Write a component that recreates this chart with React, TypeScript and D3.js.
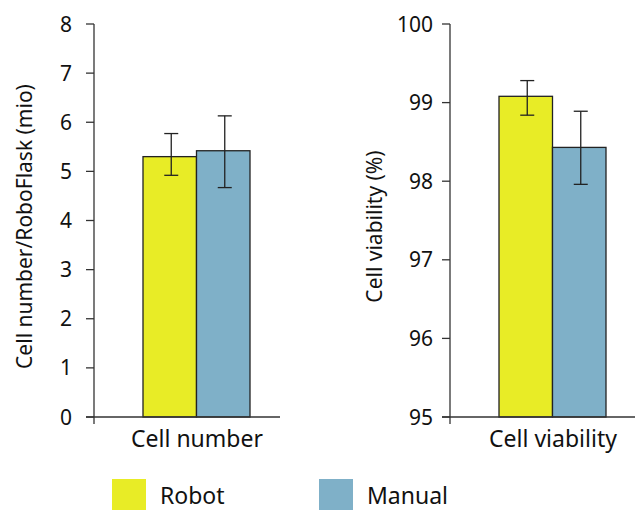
import React from "react";
import * as d3 from "d3";

const groups = ["Robot", "Manual"];
const colors = ["#e8ec26", "#7fb0c8"];

// left panel: cell number (mio)
const cellNumberMean = [5.3, 5.42];
const cellNumberErr = [[4.92, 5.77], [4.67, 6.13]];
const cellNumberTicks = [0, 1, 2, 3, 4, 5, 6, 7, 8];

// right panel: cell viability (%)
const viabilityMean = [99.08, 98.43];
const viabilityErr = [[98.84, 99.28], [97.96, 98.89]];
const viabilityTicks = [95, 96, 97, 98, 99, 100];

const font = "'Noto Sans', 'Open Sans', sans-serif";
const axisColor = "#333";

function Panel(props) {
  const { axisX, axisEnd, domain, ticks, means, errs, title, category, labelGap, titleGap } = props;
  const top = 24;
  const bottom = 417;
  const y = d3.scaleLinear().domain(domain).range([bottom, top]);
  const x = d3.scaleBand().domain(groups).range([axisX + 49, axisX + 156]).padding(0);

  return (
    <g>
      {/* y axis */}
      <line x1={axisX} x2={axisX} y1={top} y2={bottom + 7} stroke={axisColor} strokeWidth={1.3} />
      {ticks.map((t) => (
        <g key={t}>
          <line x1={axisX - 8} x2={axisX} y1={y(t)} y2={y(t)} stroke={axisColor} strokeWidth={1.3} />
          <text x={axisX - labelGap} y={y(t)} dy="0.36em" textAnchor="end" fontSize={21} fill="#111" fontFamily={font}>
            {t}
          </text>
        </g>
      ))}
      <text
        transform={`translate(${axisX - titleGap},${(top + bottom) / 2 + 6}) rotate(-90)`}
        dy="0.35em"
        textAnchor="middle"
        fontSize={21}
        fill="#111"
        fontFamily={font}
      >
        {title}
      </text>

      {/* bars */}
      {groups.map((g, i) => (
        <rect
          key={g}
          x={x(g)}
          y={y(means[i])}
          width={x.bandwidth()}
          height={bottom - y(means[i])}
          fill={colors[i]}
          stroke="#222"
          strokeWidth={1.3}
        />
      ))}
      {groups.map((g, i) => {
        const cx = x(g) + x.bandwidth() / 2 + 1.5;
        return (
          <g key={g} stroke="#222" strokeWidth={1.3}>
            <line x1={cx} x2={cx} y1={y(errs[i][0])} y2={y(errs[i][1])} />
            <line x1={cx - 7} x2={cx + 7} y1={y(errs[i][0])} y2={y(errs[i][0])} />
            <line x1={cx - 7} x2={cx + 7} y1={y(errs[i][1])} y2={y(errs[i][1])} />
          </g>
        );
      })}

      {/* x axis */}
      <line x1={axisX - 8} x2={axisEnd} y1={bottom} y2={bottom} stroke={axisColor} strokeWidth={1.3} />
      <text
        x={axisX + 103}
        y={447}
        textAnchor="middle"
        fontSize={23}
        fill="#111"
        fontFamily={font}
      >
        {category}
      </text>
    </g>
  );
}

export default function App() {
  return (
    <svg width={635} height={510} style={{ position: "absolute", left: 0, top: 0, background: "#fff" }}>
      <Panel
        axisX={94}
        axisEnd={280}
        domain={[0, 8]}
        ticks={cellNumberTicks}
        means={cellNumberMean}
        errs={cellNumberErr}
        title="Cell number/RoboFlask (mio)"
        category="Cell number"
        labelGap={22}
        titleGap={69}
      />
      <Panel
        axisX={450}
        axisEnd={640}
        domain={[95, 100]}
        ticks={viabilityTicks}
        means={viabilityMean}
        errs={viabilityErr}
        title="Cell viability (%)"
        category="Cell viability"
        labelGap={17}
        titleGap={75}
      />
      {groups.map((g, i) => (
        <g key={g} transform={`translate(${112 + i * 207},479)`}>
          <rect width={34} height={32} fill={colors[i]} />
          <text x={48} y={25} fontSize={23} fill="#111" fontFamily={font}>
            {g}
          </text>
        </g>
      ))}
    </svg>
  );
}
